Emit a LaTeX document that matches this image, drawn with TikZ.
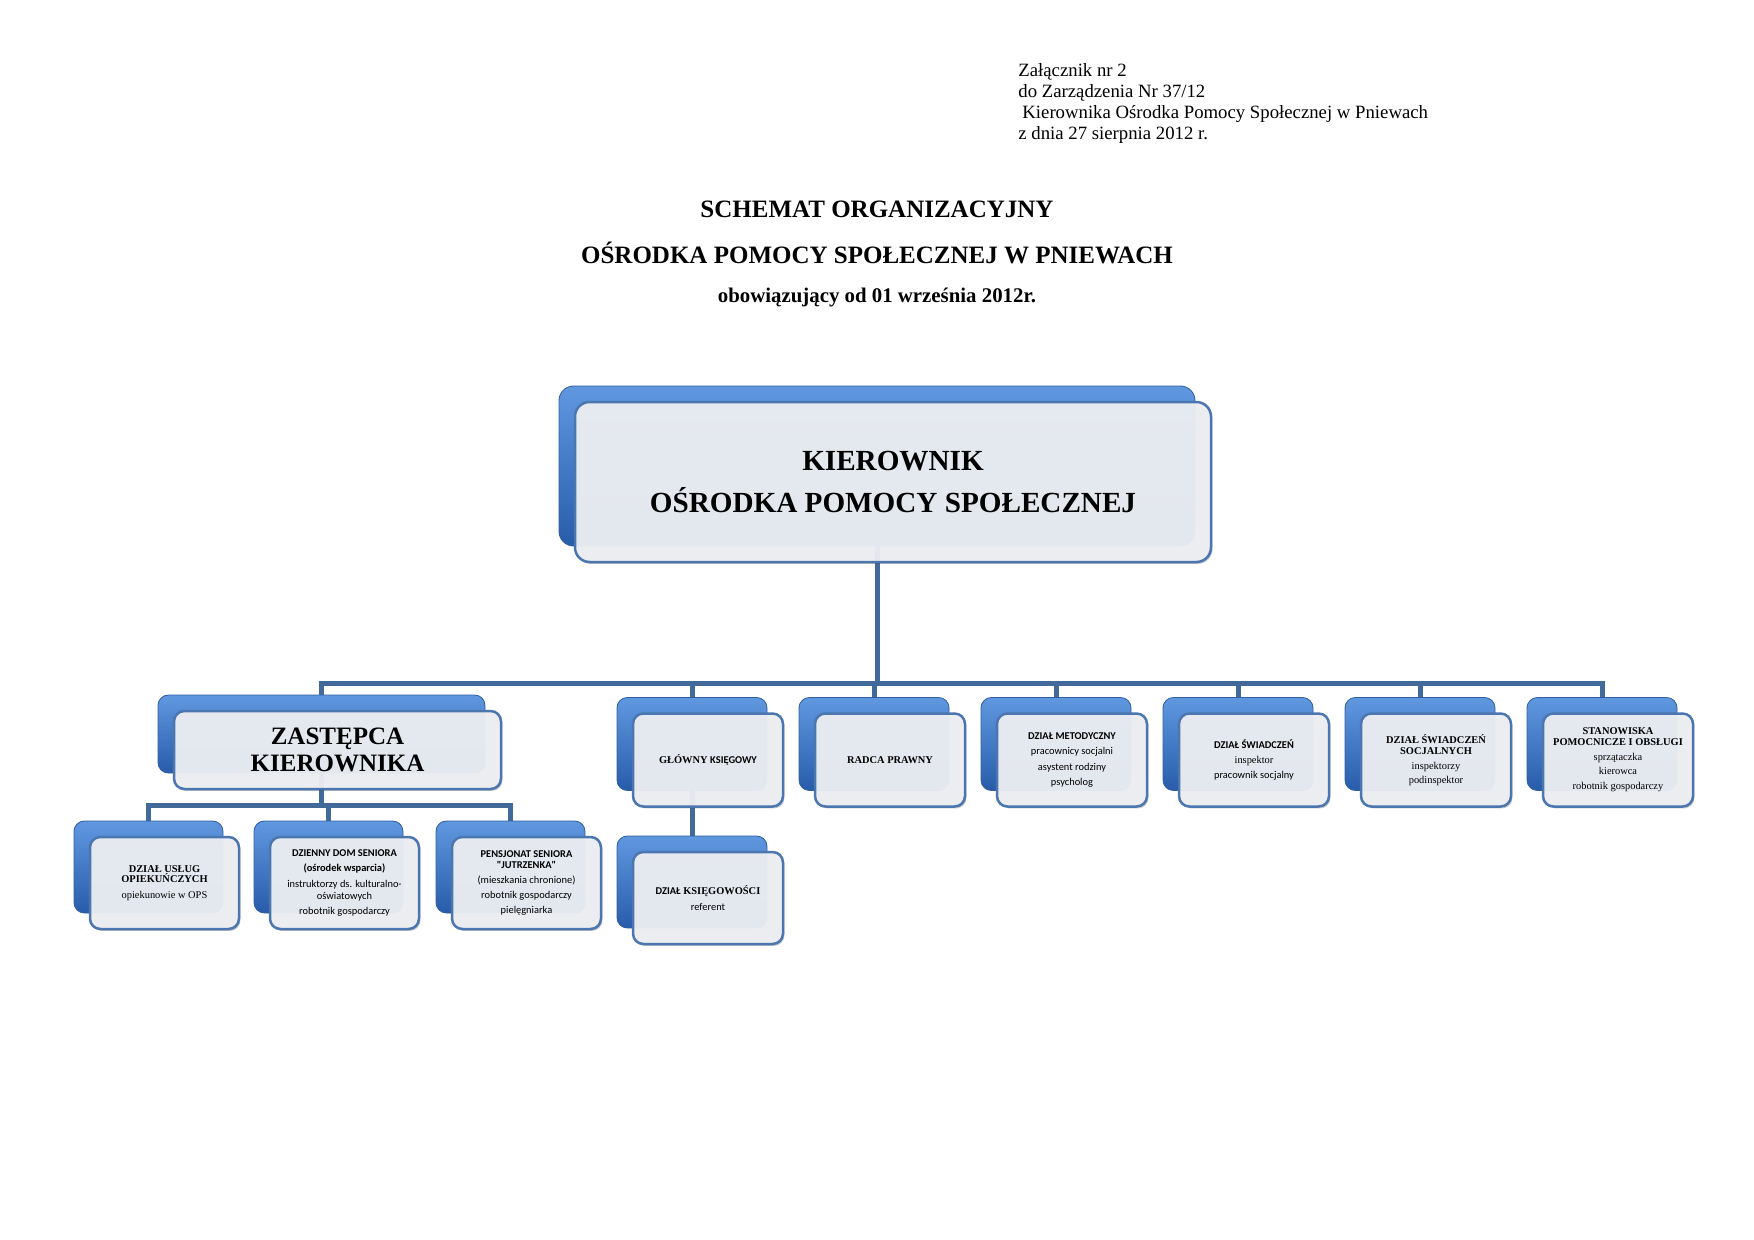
\documentclass[tikz,border=0pt]{standalone}
\usepackage{fontspec}
\setmainfont{Liberation Serif}
\newfontfamily\calib{Carlito}
\usetikzlibrary{shadows}
\pgfdeclarelayer{background}
\pgfsetlayers{background,main}
\definecolor{connc}{RGB}{65,106,155}
\definecolor{backtop}{RGB}{96,152,224}
\definecolor{backbot}{RGB}{40,92,170}
\definecolor{backedge}{RGB}{50,95,160}
\definecolor{frontfill}{RGB}{238,240,244}
\definecolor{frontedge}{RGB}{76,118,176}
\tikzset{
  conn/.style={draw=connc, line width=2.4pt, line join=miter},
  backbox/.style={rectangle, rounded corners=5pt, top color=backtop, bottom color=backbot,
    draw=backedge, line width=0.4pt, inner sep=0pt},
  frontbox/.style={rectangle, rounded corners=5pt, fill=frontfill, fill opacity=0.95,
    text opacity=1, draw=frontedge, draw opacity=1, line width=1.2pt, inner sep=0pt,
    align=center, font=\fontsize{5}{7.4}\selectfont,
    drop shadow={shadow xshift=0.7pt, shadow yshift=-0.9pt, opacity=0.22, fill=black}},
  hdr/.style={inner sep=0pt, font=\fontsize{9}{10.1}\selectfont},
  ttl/.style={inner sep=0pt, font=\fontsize{12}{14}\selectfont\bfseries},
}
% #1 extra options, #2 name, #3 cx, #4 cy, #5 width px, #6 height px, #7 text
\newcommand\orgunit[7][]{%
  \node[backbox, #1, minimum width=#5*0.48pt, minimum height=#6*0.48pt] (#2b) at (#3,#4) {};
  \node[frontbox, #1, minimum width=#5*0.48pt, minimum height=#6*0.48pt] (#2) at (#3+16,#4+16) {#7};
}
\begin{document}
\begin{tikzpicture}[x=0.48pt, y=-0.48pt]
\useasboundingbox (0,0) rectangle (1754,1240);

% header
\node[hdr, anchor=base west] (h1) at (1018,77) {Załącznik nr 2};
\node[hdr, anchor=base west] (h2) at (1018,98) {do Zarządzenia Nr 37/12};
\node[hdr, anchor=base west] (h3) at (1022,119) {Kierownika Ośrodka Pomocy Społecznej w Pniewach};
\node[hdr, anchor=base west] (h4) at (1018,140) {z dnia 27 sierpnia 2012 r.};

% titles
\node[ttl, anchor=base] (t1) at (877,218) {SCHEMAT ORGANIZACYJNY};
\node[ttl, anchor=base] (t2) at (877,263) {OŚRODKA POMOCY SPOŁECZNEJ W PNIEWACH};
\node[ttl, anchor=base, font=\fontsize{10}{12}\selectfont\bfseries] (t3) at (877,302) {obowiązujący od 01 września 2012r.};

% top box
\orgunit[rounded corners=7pt, font=\fontsize{14}{19.7}\selectfont\bfseries]{kier}{877}{466}{636}{160}{KIEROWNIK\\OŚRODKA POMOCY SPOŁECZNEJ}

% deputy
\orgunit[font=\fontsize{12}{13}\selectfont\bfseries]{zas}{321.5}{734}{327}{78}{ZASTĘPCA\\KIEROWNIKA}

% row 1
\orgunit{glow}{692}{744}{150}{93}{\textbf{GŁÓWNY {\calib KSIĘGOWY}}}
\orgunit{radca}{874}{744}{150}{93}{\textbf{RADCA PRAWNY}}
\orgunit{metod}{1056}{744}{150}{93}{{\calib\bfseries DZIAŁ METODYCZNY}\\{\calib pracownicy socjalni}\\{\calib asystent rodziny}\\{\calib psycholog}}
\orgunit{swiad}{1238}{744}{150}{93}{{\calib\bfseries DZIAŁ ŚWIADCZEŃ}\\inspektor\\[-0.4pt]{\calib pracownik socjalny}}
\orgunit{swsoc}{1420}{744}{150}{93}{\textbf{DZIAŁ ŚWIADCZEŃ}\\[-2.2pt]\textbf{SOCJALNYCH}\\inspektorzy\\[-0.8pt]podinspektor}
\orgunit{stan}{1602}{744}{150}{93}{\textbf{STANOWISKA}\\[-2.5pt]\textbf{POMOCNICZE I OBSŁUGI}\\sprzątaczka\\[-0.8pt]kierowca\\robotnik gospodarczy}

% row 2
\orgunit{uslug}{148.5}{867}{149}{92}{\textbf{DZIAŁ USŁUG}\\[-2.5pt]\textbf{OPIEKUŃCZYCH}\\opiekunowie w OPS}
\orgunit{dzien}{328.5}{867}{149}{92}{{\calib\bfseries DZIENNY DOM SENIORA}\\{\calib\bfseries (ośrodek wsparcia)}\\{\calib instruktorzy ds. kulturalno-}\\[-1.8pt]{\calib oświatowych}\\{\calib robotnik gospodarczy}}
\orgunit{pens}{510.5}{867}{149}{92}{{\calib\bfseries PENSJONAT SENIORA}\\[-2pt]{\calib\bfseries "JUTRZENKA"}\\{\calib (mieszkania chronione)}\\[-0.4pt]{\calib robotnik gospodarczy}\\{\calib pielęgniarka}}
\orgunit{ksieg}{692}{882}{150}{92}{\textbf{{\calib DZIAŁ} KSIĘGOWOŚCI}\\{\calib referent}}

\coordinate (bus) at (0,683);
\coordinate (sub) at (0,805);

\begin{pgfonlayer}{background}
  \fill[white] (0,0) rectangle (1754,1240);
  \draw[conn] (kierb.south) -- (kierb.south |- bus);
  \draw[conn] (zasb.north) |- (stanb.north |- bus) -- (stanb.north);
  \draw[conn] (glowb.north) -- (glowb.north |- bus);
  \draw[conn] (radcab.north) -- (radcab.north |- bus);
  \draw[conn] (metodb.north) -- (metodb.north |- bus);
  \draw[conn] (swiadb.north) -- (swiadb.north |- bus);
  \draw[conn] (swsocb.north) -- (swsocb.north |- bus);
  \draw[conn] (zasb.south) -- (zasb.south |- sub);
  \draw[conn] (uslugb.north) |- (pensb.north |- sub) -- (pensb.north);
  \draw[conn] (dzienb.north) -- (dzienb.north |- sub);
  \draw[conn] (glowb.south) -- (ksiegb.north);
\end{pgfonlayer}
\end{tikzpicture}
\end{document}
